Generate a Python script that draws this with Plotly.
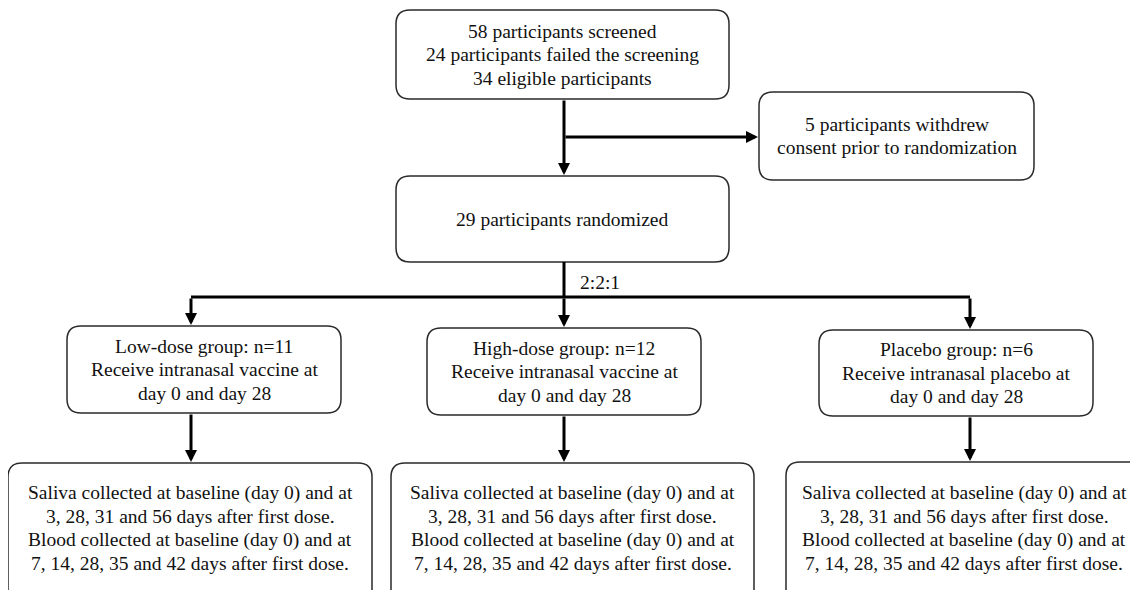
import plotly.graph_objects as go

# flowchart text
screen_lines = ["58 participants screened", "24 participants failed the screening", "34 eligible participants"]
withdraw_lines = ["5 participants withdrew", "consent prior to randomization"]
random_lines = ["29 participants randomized"]
ratio_label = "2:2:1"
group_names = ["Low-dose group: n=11", "High-dose group: n=12", "Placebo group: n=6"]
group_treat = ["Receive intranasal vaccine at", "Receive intranasal vaccine at", "Receive intranasal placebo at"]
group_days = ["day 0 and day 28", "day 0 and day 28", "day 0 and day 28"]
sample_lines = ["Saliva collected at baseline (day 0) and at",
                "3, 28, 31 and 56 days after first dose.",
                "Blood collected at baseline (day 0) and at",
                "7, 14, 28, 35 and 42 days after first dose."]

# the page body has an 8px margin, so the axes start at 8 to line up with the window
PAD = 8
W, H = 1138, 590
FONT = dict(family="Times New Roman, Liberation Serif, serif", size=19.5, color="#111111")
LINE_GAP = 23.5


def rounded_box(x0, y0, x1, y1, r=14):
    # rounded rectangle path (y axis points down)
    p = (f"M {x0+r},{y0} L {x1-r},{y0} Q {x1},{y0} {x1},{y0+r} "
         f"L {x1},{y1-r} Q {x1},{y1} {x1-r},{y1} "
         f"L {x0+r},{y1} Q {x0},{y1} {x0},{y1-r} "
         f"L {x0},{y0+r} Q {x0},{y0} {x0+r},{y0} Z")
    return dict(type="path", path=p, xref="x", yref="y",
                line=dict(color="#2a2a2a", width=1.5), fillcolor="white", layer="below")


fig = go.Figure()
shapes = []
annotations = []


def add_text(xc, yc, lines):
    # one annotation per line so the line gap matches the original
    start = yc - LINE_GAP * (len(lines) - 1) / 2
    for k, t in enumerate(lines):
        annotations.append(dict(x=xc, y=start + k * LINE_GAP, text=t, showarrow=False,
                                font=FONT, xref="x", yref="y"))


def add_box(x0, y0, x1, y1, lines, yc=None):
    shapes.append(rounded_box(x0, y0, x1, y1))
    add_text((x0 + x1) / 2, (y0 + y1) / 2 if yc is None else yc, lines)


def add_line(x0, y0, x1, y1):
    shapes.append(dict(type="line", x0=x0, y0=y0, x1=x1, y1=y1, xref="x", yref="y",
                       line=dict(color="black", width=3)))


def add_arrow(x0, y0, x1, y1):
    annotations.append(dict(x=x1, y=y1, ax=x0, ay=y0, xref="x", yref="y",
                            axref="x", ayref="y", text="", showarrow=True,
                            arrowhead=2, arrowsize=0.8, arrowwidth=3, arrowcolor="black"))


# top part
add_box(396, 10, 729, 99, screen_lines)
add_box(759, 92, 1034, 180, withdraw_lines)
add_box(396, 176, 729, 262, random_lines)
add_arrow(564, 99, 564, 175)
add_arrow(564, 137, 758, 137)

# split into groups
add_line(564, 262, 564, 297)
add_line(191, 297, 970, 297)
annotations.append(dict(x=578, y=282, text=ratio_label, showarrow=False, font=FONT,
                        xanchor="left", xref="x", yref="y"))

group_x = [(67, 341), (427, 701), (819, 1093)]
group_y = [(326, 413), (328, 415), (330, 416)]
arrow_x = [191, 564, 970]
sample_x = [(8, 372), (391, 754), (786, 1142)]
sample_top = [463, 463, 462]

for i in range(3):
    ax = arrow_x[i]
    add_arrow(ax, 297, ax, group_y[i][0] - 1)
    add_box(group_x[i][0], group_y[i][0], group_x[i][1], group_y[i][1],
            [group_names[i], group_treat[i], group_days[i]])
    add_arrow(ax, group_y[i][1], ax, sample_top[i] - 1)
    # the sample boxes run off the bottom of the picture
    add_box(sample_x[i][0], sample_top[i], sample_x[i][1], 610, sample_lines, yc=528)

fig.update_layout(
    width=W - PAD, height=H - PAD,
    margin=dict(l=0, r=0, t=0, b=0),
    paper_bgcolor="white", plot_bgcolor="white",
    xaxis=dict(range=[PAD, W], visible=False, fixedrange=True),
    yaxis=dict(range=[H, PAD], visible=False, fixedrange=True),
    shapes=shapes, annotations=annotations,
    showlegend=False,
)

fig.write_html("out.html")
